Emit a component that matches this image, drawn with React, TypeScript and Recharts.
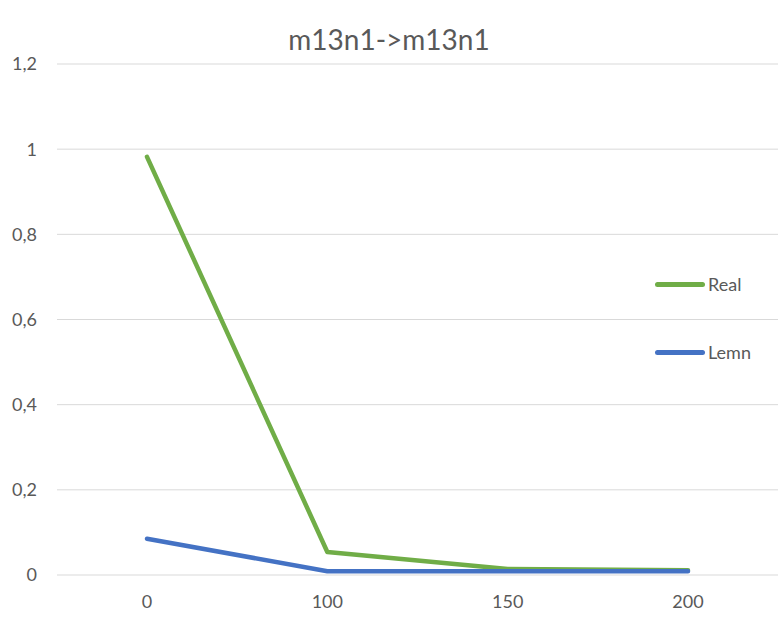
import { LineChart, Line, XAxis, YAxis, CartesianGrid } from 'recharts'

const categories = ['0', '100', '150', '200']
const realValues = [0.982, 0.054, 0.014, 0.011]
const lemnValues = [0.085, 0.009, 0.009, 0.009]
const yTicks = [0, 0.2, 0.4, 0.6, 0.8, 1, 1.2]

const series = [
  { dataKey: 'real', name: 'Real', color: '#70ad47' },
  { dataKey: 'lemn', name: 'Lemn', color: '#4472c4' },
]

const data = categories.map((name, i) => ({
  name,
  real: realValues[i],
  lemn: lemnValues[i],
}))

const textColor = '#595959'
const font = 'Lato, "Noto Sans", sans-serif'

export default function App() {
  return (
    <div style={{ position: 'relative', width: 778, height: 617, fontFamily: font, background: '#fff' }}>
      <style>{'body{margin:0}'}</style>
      <div
        style={{
          position: 'absolute',
          top: 21,
          left: 0,
          width: 778,
          textAlign: 'center',
          fontSize: 28,
          lineHeight: '36px',
          color: textColor,
        }}
      >
        m13n1-&gt;m13n1
      </div>
      <LineChart
        width={778}
        height={617}
        data={data}
        margin={{ top: 64, right: 0, left: 0, bottom: 12 }}
      >
        <CartesianGrid vertical={false} stroke="#d9d9d9" strokeWidth={1} />
        <XAxis
          dataKey="name"
          axisLine={false}
          tickLine={false}
          height={30}
          padding={{ left: 90, right: 90 }}
          tick={{ fill: textColor, fontSize: 18, fontFamily: font }}
          tickMargin={14}
        />
        <YAxis
          width={57}
          domain={[0, 1.2]}
          ticks={yTicks}
          axisLine={false}
          tickLine={false}
          tickMargin={14}
          tickFormatter={(v: number) => String(v).replace('.', ',')}
          tick={{ fill: textColor, fontSize: 18, fontFamily: font }}
        />
        {series.map((s) => (
          <Line
            key={s.dataKey}
            dataKey={s.dataKey}
            name={s.name}
            stroke={s.color}
            strokeWidth={4.5}
            strokeLinecap="round"
            strokeLinejoin="round"
            dot={false}
            activeDot={false}
            isAnimationActive={false}
          />
        ))}
      </LineChart>
      {series.map((s, i) => (
        <div
          key={s.dataKey}
          style={{
            position: 'absolute',
            left: 655,
            top: 273 + i * 68,
            display: 'flex',
            alignItems: 'center',
            color: textColor,
            fontSize: 18,
          }}
        >
          <span
            style={{
              display: 'inline-block',
              width: 50,
              height: 5,
              borderRadius: 3,
              background: s.color,
              marginRight: 3,
            }}
          />
          {s.name}
        </div>
      ))}
    </div>
  )
}
